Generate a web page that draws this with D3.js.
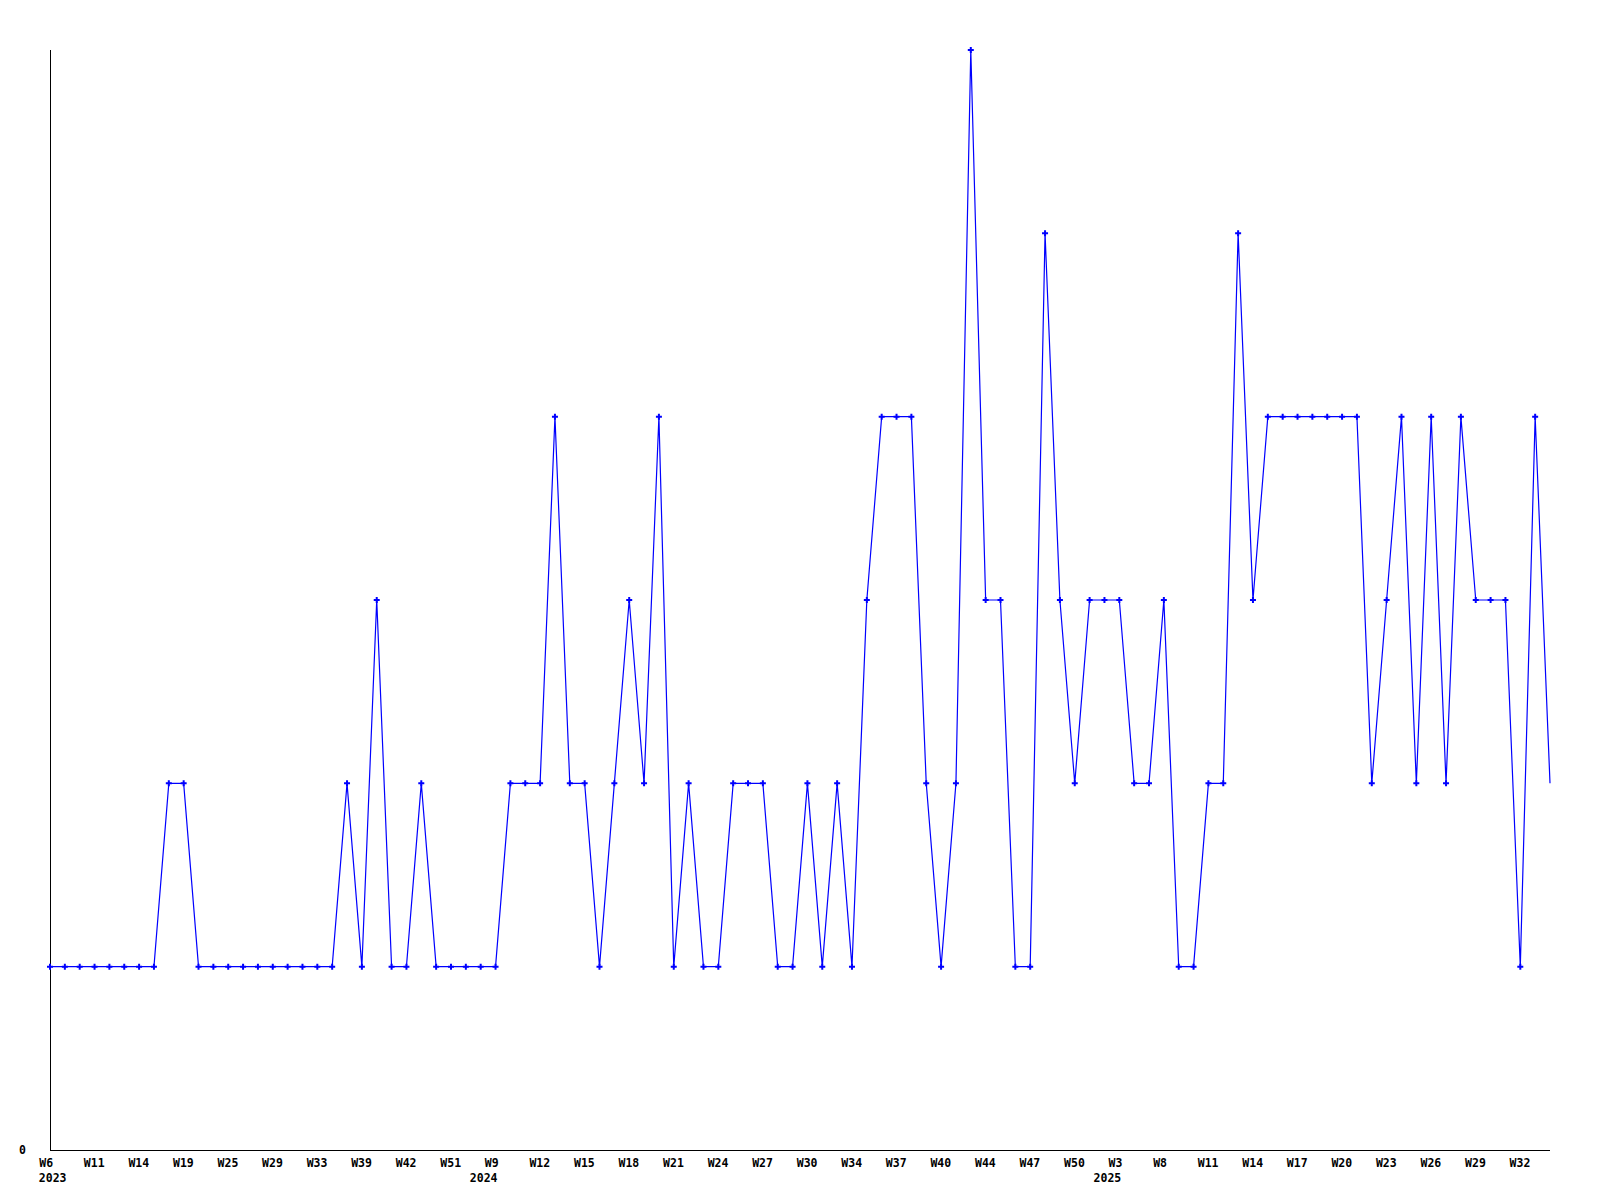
<!DOCTYPE html>
<html>
<head>
<meta charset="utf-8">
<script src="https://cdn.jsdelivr.net/npm/d3@7"></script>
<style>
  html, body { margin: 0; padding: 0; background: #fff; }
  svg { display: block; }
  .lbl { font-family: "DejaVu Sans Mono", monospace; font-weight: bold; font-size: 11.5px; fill: #000; }
</style>
</head>
<body>
<svg id="chart" width="1600" height="1200"></svg>
<script>
// ---- data ----
const weeks = [
  "W6","W7","W9","W11","W12","W13","W14","W16","W17","W19",
  "W21","W23","W25","W26","W27","W29","W31","W32","W33","W35",
  "W37","W39","W40","W41","W42","W45","W48","W51","W52","W5",
  "W9","W10","W11","W12","W13","W14","W15","W16","W17","W18",
  "W19","W20","W21","W22","W23","W24","W25","W26","W27","W28",
  "W29","W30","W32","W33","W34","W35","W36","W37","W38","W39",
  "W40","W42","W43","W44","W45","W46","W47","W48","W49","W50",
  "W51","W52","W3","W5","W6","W8","W9","W10","W11","W12",
  "W13","W14","W15","W16","W17","W18","W19","W20","W21","W22",
  "W23","W24","W25","W26","W27","W28","W29","W30","W31","W32",
  "W33","W34"
];
const years = [
  2023,2023,2023,2023,2023,2023,2023,2023,2023,2023,
  2023,2023,2023,2023,2023,2023,2023,2023,2023,2023,
  2023,2023,2023,2023,2023,2023,2023,2023,2023,2024,
  2024,2024,2024,2024,2024,2024,2024,2024,2024,2024,
  2024,2024,2024,2024,2024,2024,2024,2024,2024,2024,
  2024,2024,2024,2024,2024,2024,2024,2024,2024,2024,
  2024,2024,2024,2024,2024,2024,2024,2024,2024,2024,
  2024,2024,2025,2025,2025,2025,2025,2025,2025,2025,
  2025,2025,2025,2025,2025,2025,2025,2025,2025,2025,
  2025,2025,2025,2025,2025,2025,2025,2025,2025,2025,
  2025,2025
];
const values = [
  1,1,1,1,1,1,1,1,2,2,
  1,1,1,1,1,1,1,1,1,1,
  2,1,3,1,1,2,1,1,1,1,
  1,2,2,2,4,2,2,1,2,3,
  2,4,1,2,1,1,2,2,2,1,
  1,2,1,2,1,3,4,4,4,2,
  1,2,6,3,3,1,1,5,3,2,
  3,3,3,2,2,3,1,1,2,2,
  5,3,4,4,4,4,4,4,4,2,
  3,4,2,4,2,4,3,3,3,1,
  4,2
];
const yTicks = [0];
const yMax = 6;

// ---- build ----
const categories = weeks.map((w, i) => years[i] + "-" + w);
const data = categories.map((c, i) => ({ key: c, week: weeks[i], year: years[i], value: values[i] }));

const svg = d3.select("#chart");
const mLeft = 50, mRight = 1550, mTop = 50, mBottom = 1150;
const labelShift = -11.2;

const x = d3.scalePoint().domain(categories).range([mLeft, mRight]);
const y = d3.scaleLinear().domain([0, yMax]).range([mBottom, mTop]);

// axes lines
svg.append("line").attr("x1", mLeft + 0.5).attr("x2", mLeft + 0.5).attr("y1", mTop).attr("y2", mBottom + 0.5)
  .attr("stroke", "#000").attr("stroke-width", 1);
svg.append("line").attr("x1", mLeft).attr("x2", mRight).attr("y1", mBottom + 0.5).attr("y2", mBottom + 0.5)
  .attr("stroke", "#000").attr("stroke-width", 1);

// y axis labels
const yAxis = d3.axisLeft(y).tickValues(yTicks).tickSize(0).tickPadding(24).tickFormat(d3.format("d"));
const gy = svg.append("g").attr("transform", `translate(${mLeft},0)`).call(yAxis);
gy.select(".domain").remove();
gy.attr("font-family", null).attr("font-size", null);
gy.selectAll("text").attr("class", "lbl");

// x axis labels (every third point), left-aligned slightly before the point
const tickKeys = categories.filter((c, i) => i % 3 === 0);
const xAxis = d3.axisBottom(x).tickValues(tickKeys).tickSize(0).tickPadding(9)
  .tickFormat(k => data[categories.indexOf(k)].week);
const gx = svg.append("g").attr("transform", `translate(0,${mBottom})`).call(xAxis);
gx.select(".domain").remove();
gx.attr("font-family", null).attr("font-size", null).attr("text-anchor", null);
gx.selectAll("text").attr("class", "lbl").attr("text-anchor", "start").attr("x", labelShift);

// year labels under first tick of each year
let prevYear = null;
const yearTicks = [];
tickKeys.forEach(k => {
  const d = data[categories.indexOf(k)];
  if (d.year !== prevYear) { yearTicks.push(d); prevYear = d.year; }
});
const minLeft = mLeft + labelShift;
svg.append("g").selectAll("text").data(yearTicks).join("text")
  .attr("class", "lbl")
  .attr("y", mBottom + 32)
  .text(d => d.year)
  .each(function(d) {
    const t = d3.select(this);
    const w = this.getComputedTextLength();
    let right = x(d.key) + 2;
    if (right - w < minLeft) {
      t.attr("x", minLeft).attr("text-anchor", "start");
    } else {
      t.attr("x", right).attr("text-anchor", "end");
    }
  });

// line
const line = d3.line().x(d => x(d.key)).y(d => y(d.value));
svg.append("path").datum(data)
  .attr("d", line)
  .attr("fill", "none")
  .attr("stroke", "#0000ff")
  .attr("stroke-width", 1.2);

// markers (last point drawn without marker, as in reference)
const sym = d3.symbol().type(d3.symbolCross).size(20);
svg.append("g").selectAll("path").data(data.slice(0, -1)).join("path")
  .attr("transform", d => `translate(${x(d.key)},${y(d.value)})`)
  .attr("d", sym)
  .attr("fill", "#0000ff");
</script>
</body>
</html>
